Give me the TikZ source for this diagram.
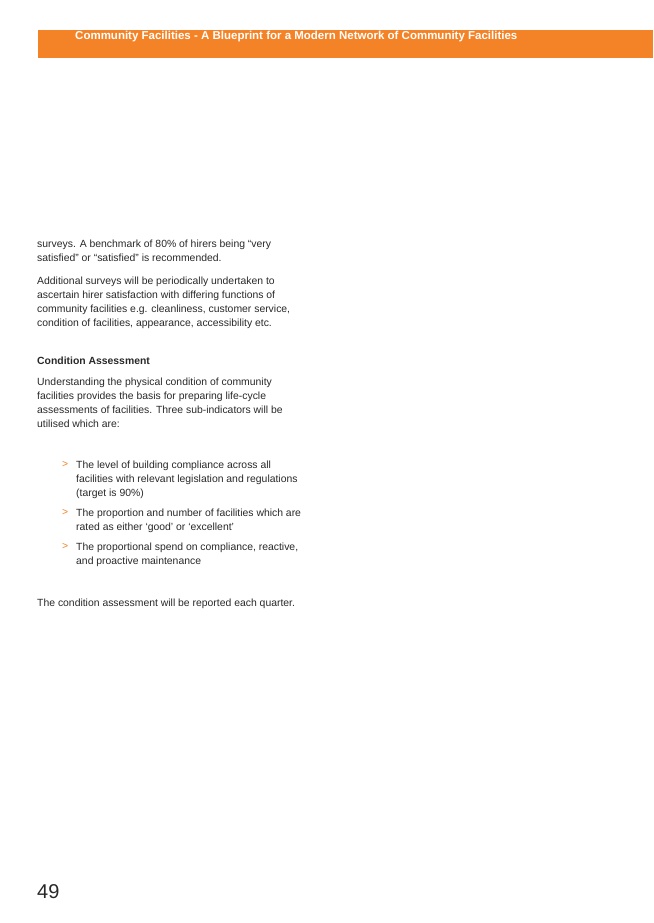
\documentclass[tikz,border=0pt]{standalone}
\usepackage{fontspec}
\setmainfont{Liberation Sans}
\definecolor{bannerorange}{RGB}{244,130,38}
\definecolor{bodygrey}{RGB}{40,40,40}
\tikzset{
  para/.style={anchor=north west,inner sep=0pt,align=left,text=bodygrey,
    font=\fontsize{10.4}{14}\selectfont},
  head/.style={para,font=\fontsize{10.4}{14}\selectfont\bfseries},
  arrowmark/.style={anchor=north west,inner sep=0pt,text=bannerorange,
    font=\fontsize{10.4}{14}\selectfont}
}
\begin{document}
\begin{tikzpicture}[x=1pt,y=-1pt]
\useasboundingbox (0,0) rectangle (653,923);
% banner
\fill[bannerorange] (38,30) rectangle (653,58);
\node[anchor=west,inner sep=0pt,text=white,font=\fontsize{11.5}{13}\selectfont\bfseries]
  (banner) at (75,37) {Community Facilities - A Blueprint for a Modern Network of Community Facilities};
% body text
\node[para] (surveys) at (37,240) {surveys. A benchmark of 80\% of hirers being ``very\\
satisfied'' or ``satisfied'' is recommended.};
\node[para] (additional) at (37,277) {Additional surveys will be periodically undertaken to\\
ascertain hirer satisfaction with differing functions of\\
community facilities e.g. cleanliness, customer service,\\
condition of facilities, appearance, accessibility etc.};
\node[head] (condhead) at (37,357) {Condition Assessment};
\node[para] (understand) at (37,378) {Understanding the physical condition of community\\
facilities provides the basis for preparing life-cycle\\
assessments of facilities. Three sub-indicators will be\\
utilised which are:};
% sub-indicators
\node[arrowmark] (m1) at (62,461) {>};
\node[para] (item1) at (76,461) {The level of building compliance across all\\
facilities with relevant legislation and regulations\\
(target is 90\%)};
\node[arrowmark] (m2) at (62,509) {>};
\node[para] (item2) at (76,509) {The proportion and number of facilities which are\\
rated as either `good' or `excellent'};
\node[arrowmark] (m3) at (62,543) {>};
\node[para] (item3) at (76,543) {The proportional spend on compliance, reactive,\\
and proactive maintenance};
\node[para] (quarter) at (37,599) {The condition assessment will be reported each quarter.};
% page number
\node[anchor=west,inner sep=0pt,text=bodygrey,font=\fontsize{20}{22}\selectfont]
  (pagenum) at (37,892) {49};
\end{tikzpicture}
\end{document}
